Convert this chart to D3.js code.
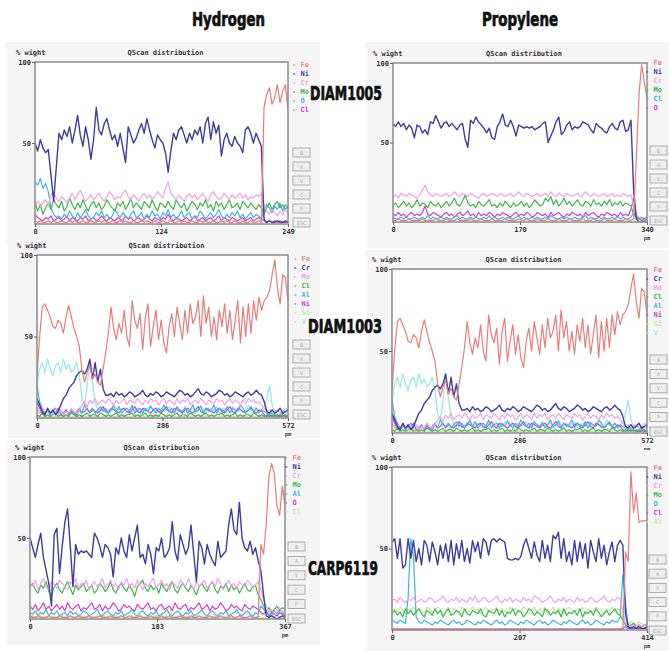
<!DOCTYPE html>
<html>
<head>
<meta charset="utf-8">
<script src="https://cdn.jsdelivr.net/npm/d3@7"></script>
<style>
html,body{margin:0;padding:0;background:#fff;}
svg{display:block;}
</style>
</head>
<body>
<svg id="chart" width="669" height="651"></svg>
<script>
// ---- Column / row headings ----
const gasTitles = ["Hydrogen", "Propylene"];
const sampleNames = ["DIAM1005", "DIAM1003", "CARP6119"];
const yTicks = [50, 100];
const buttonLabels = ["B", "A", "V", "C", "P", "ESC"];

// ---- Hydrogen / DIAM1005 (0–249 pm) ----
const h1005Ticks = [0, 124, 249];
const h1005Names = ["Fe", "Ni", "Cr", "Mo", "O", "Cl"];
const h1005_Fe = [2,1,2,1,1,2,1,2,1,1, 2,1,1,2,1,2,1,1,2,1, 1,2,1,1,2,1,2,1,1,2, 1,1,2,1,2,1,1,2,1,1,
  2,1,2,1,1,2,1,1,2,1, 1,2,1,1,2,1,2,1,1,2, 1,1,2,1,2,1,1,2,1,1, 2,1,2,1,1,2,1,1,2,1,
  1,2,1,1,2,1,72,80,84,74, 78,86,75,82,86,70];
const h1005_Ni = [50,45,52,47,44,46,30,14,35,56, 52,58,54,60,50,58,67,55,48,60, 52,40,52,72,58,55,62,65,58,52,
  55,48,56,47,38,60,55,50,53,58, 62,56,65,58,52,47,55,52,50,44, 32,45,56,52,58,60,55,50,56,52,
  58,55,60,50,62,66,52,63,56,61, 42,52,56,50,48,54,50,48,44,58, 60,56,50,56,52,48,3,1,2,1, 1,2,1,1,2,1];
const h1005_Cr = [12,14,11,13,15,12,18,20,16,14, 17,15,13,16,19,15,18,21,17,14, 16,18,15,17,19,16,14,17,20,18,
  15,17,16,19,21,17,15,18,16,14, 17,19,16,18,15,17,20,18,16,22, 26,19,17,15,18,16,14,17,19,16,
  18,15,17,19,16,14,18,20,17,15, 16,19,17,15,18,16,17,19,16,18, 15,17,16,18,17,19,12,8,6,9, 7,5,8,6,9,7];
const h1005_Mo = [14,8,12,6,10,13,9,15,12,10, 14,8,11,16,12,9,13,10,15,11, 8,12,14,10,13,9,11,15,12,10,
  8,13,11,14,9,12,16,10,13,11, 9,14,12,10,15,11,8,13,12,10, 14,11,9,15,12,10,13,8,11,14,
  12,9,13,11,15,10,12,8,14,11, 13,9,12,15,10,11,13,9,14,12, 10,13,11,9,12,10,6,10,13,9, 12,14,10,12,9,11];
const h1005_O = [26,24,28,22,25,20,10,6,4,5, 3,6,4,8,5,3,7,4,6,9, 5,3,4,7,5,8,4,6,3,5,
  9,6,4,7,5,3,6,8,4,5, 7,3,6,4,8,5,6,3,7,5, 9,4,6,3,5,8,4,6,7,3,
  5,4,8,6,3,5,7,4,6,9, 5,3,6,4,7,5,8,4,6,3, 5,7,4,6,5,3,8,12,10,7, 11,9,13,8,12,10];
const h1005_Cl = [6,4,3,2,4,3,5,2,3,4, 2,3,5,2,4,3,2,4,3,5, 2,3,4,2,3,5,3,2,4,3,
  2,4,3,2,5,3,4,2,3,4, 2,3,5,3,2,4,3,2,4,3, 6,3,2,4,3,2,3,4,2,3,
  5,2,3,4,2,3,4,2,3,5, 2,4,3,2,4,3,2,3,4,2, 3,4,2,3,4,3,2,1,2,1, 2,1,2,1,1,2];

// ---- Propylene / DIAM1005 (0–340 pm) ----
const p1005Ticks = [0, 170, 340];
const p1005Names = ["Fe", "Ni", "Cr", "Mo", "Cl", "O"];
const p1005_Fe = [1,1,2,1,1,1,2,1,1,1, 1,2,1,1,1,1,2,1,1,1, 2,1,1,1,2,1,1,1,1,2, 1,1,1,2,1,1,1,2,1,1,
  1,1,2,1,1,1,1,2,1,1, 2,1,1,1,2,1,1,1,2,1, 1,1,2,1,1,1,2,1,1,1, 1,2,1,1,1,2,1,1,1,2,
  1,1,1,2,1,1,1,2,1,1, 2,40,80,99,88,78];
const p1005_Ni = [62,60,63,60,62,58,61,59,53,61, 60,56,58,55,63,62,67,63,59,62, 63,60,62,60,58,61,62,52,47,64,
  62,66,63,61,59,56,59,53,52,60, 63,68,61,60,64,60,54,61,60,59, 60,59,60,58,59,60,62,63,50,54,
  58,63,66,55,57,61,63,58,60,59, 60,63,62,61,58,56,62,60,59,57, 56,60,62,59,58,63,64,57,58,64, 20,2,0,0,0,0];
const p1005_Cr = [16,17,15,18,17,16,18,17,16,15, 17,20,23,19,17,16,18,17,16,17, 18,16,17,19,17,16,18,17,16,18,
  17,16,15,17,18,16,17,18,17,16, 18,17,16,17,18,16,17,19,17,16, 18,17,16,17,18,16,17,18,16,19,
  17,16,18,17,16,18,17,16,17,18, 16,17,19,17,16,18,17,16,17,18, 16,17,18,16,17,16,18,17,16,17, 10,4,3,2,3,2];
const p1005_Mo = [10,12,9,11,13,10,12,9,11,14, 10,12,11,9,13,11,10,12,9,11, 13,10,12,15,11,10,13,17,12,10,
  11,9,13,11,10,12,14,10,11,9, 12,10,13,11,9,12,10,11,13,10, 12,9,11,14,12,10,11,15,13,16,
  11,14,10,12,15,11,13,10,12,14, 11,10,13,12,10,14,11,12,10,13, 11,14,10,12,11,13,10,12,11,10, 5,3,2,3,2,3];
const p1005_Cl = [3,2,2,3,2,3,2,2,3,2, 2,3,2,4,2,3,2,2,3,2, 3,2,2,3,4,2,3,2,2,3, 2,3,2,2,3,2,4,2,3,2,
  2,3,2,3,2,2,3,4,2,3, 2,2,3,2,3,2,2,3,2,4, 3,2,2,3,2,3,2,2,3,2, 2,3,4,2,3,2,2,3,2,3,
  2,2,3,2,4,2,3,2,2,3, 6,3,2,2,1,2];
const p1005_O = [5,4,6,4,5,3,5,6,4,5, 4,6,10,5,4,6,5,4,3,5, 6,4,5,3,5,6,4,5,7,4, 5,3,6,4,5,4,6,5,3,5,
  4,6,5,4,3,5,6,4,5,4, 6,5,3,4,6,5,4,5,3,6, 4,5,6,4,3,5,4,6,5,4, 5,3,6,4,5,6,4,3,5,4,
  6,5,4,5,3,6,4,5,4,8, 15,4,2,1,2,1];

// ---- DIAM1003 (0–572 pm), same profile recorded under both gases ----
const d1003Ticks = [0, 286, 572];
const d1003Names = ["Fe", "Cr", "Mo", "Cl", "Al", "Ni", "Si", "V"];
const d1003_Fe = [26,50,68,70,66,62,56,55,60,58, 52,62,69,62,55,50,44,30,22,28, 32,24,27,22,20,30,40,52,68,55,
  48,58,52,66,50,44,72,60,55,64, 42,62,70,44,56,66,48,60,46,40, 56,64,50,68,58,48,66,52,70,58,
  62,72,50,75,58,68,50,62,48,66, 56,70,52,66,48,60,72,46,68,50, 70,52,72,60,74,66,72,74,78,88, 97,80,70,88,86,72];
const d1003_Cr = [12,8,4,2,6,3,5,2,4,8, 12,14,18,20,22,26,28,29,27,30, 36,24,34,22,30,18,14,14,15,13,
  16,14,15,13,14,16,15,13,14,15, 17,14,13,15,14,16,15,13,14,16, 15,14,13,15,17,16,14,15,13,14,
  16,18,15,14,16,15,13,14,15,17, 16,14,15,13,14,16,15,14,13,15, 16,14,15,17,15,14,10,4,3,5, 3,4,6,3,4,5];
const d1003_Mo = [6,3,5,2,4,3,2,4,3,5, 2,4,3,6,4,3,5,8,10,7, 11,9,12,8,10,11,9,12,10,8, 11,9,10,12,8,11,10,9,12,10,
  8,11,9,12,10,11,8,10,12,9, 11,10,8,12,9,11,10,12,8,10, 11,9,12,10,8,11,10,9,12,10, 11,8,10,12,9,11,10,8,11,9,
  12,10,11,9,10,8,6,4,5,3, 4,5,3,4,3,4];
const d1003_Cl = [2,1,3,1,2,1,2,3,1,2, 1,2,1,3,2,1,2,1,2,3, 1,2,2,1,3,2,1,2,1,2, 3,1,2,1,2,2,3,1,2,1,
  2,3,1,2,1,2,1,3,2,1, 2,1,2,3,1,2,2,1,3,2, 1,2,1,2,3,1,2,1,2,2, 3,1,2,1,2,3,1,2,1,2,
  2,1,3,2,1,2,1,2,1,2, 1,2,1,1,2,1];
const d1003_Al = [20,10,6,3,5,2,4,6,3,5, 2,4,3,5,2,4,6,3,8,5, 4,6,3,5,7,4,6,3,5,8, 4,7,3,5,6,4,8,3,5,6,
  3,6,4,7,5,3,6,4,8,5, 4,6,3,7,5,4,6,3,5,8, 4,5,7,3,6,4,5,8,3,6, 5,4,7,3,6,5,4,8,6,3,
  5,7,4,6,3,5,4,3,2,3, 2,1,2,3,2,1];
const d1003_Ni = [10,6,2,3,5,2,4,3,6,2, 3,5,2,4,3,2,5,3,4,6, 3,5,4,3,5,7,4,3,6,5, 4,3,5,6,4,3,5,7,4,3,
  6,5,4,3,5,6,4,3,5,7, 4,3,6,5,4,3,5,6,4,3, 5,7,4,3,6,5,4,3,5,6, 4,3,5,7,4,3,6,5,4,3,
  5,6,4,3,5,4,2,1,2,1, 2,1,1,2,1,1];
const d1003_Si = [1,1,0.5,1,1,0.5,1,1,1,0.5, 1,1,1,0.5,1,1,0.5,1,1,1, 0.5,1,1,1,0.5,1,1,0.5,1,1, 1,0.5,1,1,1,0.5,1,1,0.5,1,
  1,1,0.5,1,1,1,0.5,1,1,1, 0.5,1,1,0.5,1,1,1,0.5,1,1, 1,0.5,1,1,1,0.5,1,1,0.5,1, 1,1,0.5,1,1,1,0.5,1,1,1,
  0.5,1,1,0.5,1,1,1,0.5,1,1, 1,0.5,1,1,0.5,1];
const d1003_V = [20,30,34,28,36,30,26,32,34,28, 36,30,33,28,30,34,26,12,8,20, 34,22,10,5,4,6,3,5,4,7,
  3,5,6,4,3,5,7,4,6,3, 5,4,6,8,4,5,3,6,4,5, 7,3,4,6,5,3,7,4,5,6, 3,4,8,5,3,6,4,5,7,3,
  4,6,5,3,7,4,5,6,3,4, 8,5,3,6,4,5,7,12,20,8, 4,5,3,4,6,5];

// ---- Hydrogen / CARP6119 (0–367 pm) ----
const h6119Ticks = [0, 183, 367];
const h6119Names = ["Fe", "Ni", "Cr", "Mo", "Al", "O", "Cl"];
const h6119_Fe = [2,1,1,2,1,1,1,2,1,1, 1,2,1,1,1,2,1,1,2,1, 1,1,2,1,1,1,2,1,1,1, 2,1,1,1,2,1,1,2,1,1,
  1,2,1,1,1,2,1,1,1,2, 1,1,2,1,1,1,2,1,1,1, 2,1,1,2,1,1,1,2,1,1, 1,2,1,1,1,2,1,1,2,1,
  1,1,2,1,1,1,46,40,58,88, 96,90,70,64,82,70];
const h6119_Ni = [50,44,38,46,53,38,30,22,8,52, 56,28,45,60,68,45,20,46,40,42, 41,42,40,38,53,50,45,38,46,44,
  40,26,44,40,50,42,38,52,42,50, 58,38,40,34,46,40,28,44,42,50, 38,40,44,60,42,36,52,46,40,44,
  58,40,23,48,44,34,46,40,36,33, 48,38,40,42,58,68,55,52,72,50, 44,42,48,40,44,36,30,15,2,1, 2,1,0,1,2,1];
const h6119_Cr = [22,20,24,18,22,25,20,18,23,21, 19,24,22,20,18,23,21,25,19,22, 20,24,18,21,23,20,22,25,19,21,
  24,20,22,18,23,21,25,20,22,19, 24,21,18,22,20,23,25,19,21,24, 20,22,18,23,21,19,24,22,20,25,
  21,18,23,20,22,24,19,21,23,20, 25,22,18,21,24,20,22,19,23,21, 20,24,22,19,21,23,18,12,8,4, 6,3,5,7,4,6];
const h6119_Mo = [20,22,18,16,21,19,23,17,14,20, 22,18,16,20,23,19,15,21,18,20, 22,17,19,21,16,18,22,20,17,19,
  23,18,16,20,22,19,17,21,18,14, 20,22,24,19,17,21,18,20,16,22, 19,17,21,23,18,16,20,22,19,17,
  21,18,15,20,22,19,17,21,23,18, 16,20,19,22,17,21,18,20,16,19, 22,18,17,20,21,15,12,8,5,7, 4,6,8,5,7,6];
const h6119_Al = [4,3,5,2,4,3,6,2,4,3, 5,2,3,4,2,5,3,4,2,3, 5,4,2,3,4,6,3,2,4,5, 3,2,4,3,5,2,3,4,6,3,
  2,4,5,3,2,4,3,5,2,3, 4,6,3,2,4,5,3,2,4,3, 5,2,3,4,6,3,2,4,5,3, 2,4,3,5,2,3,4,6,3,2,
  4,5,3,2,4,3,8,6,4,3, 2,5,3,6,4,3];
const h6119_O = [8,6,9,5,7,10,6,8,5,7, 9,6,8,5,10,7,6,8,9,5, 7,6,8,10,6,7,9,5,8,6, 7,10,8,5,6,9,7,8,6,5,
  9,7,6,8,10,6,7,5,8,9, 6,7,8,5,10,7,6,8,9,5, 7,6,8,10,6,7,9,5,8,6, 7,10,8,5,6,9,7,8,6,5,
  9,7,6,8,7,6,4,3,5,2, 4,3,2,4,3,2];
const h6119_Cl = [1,2,1,1,2,1,1,1,2,1, 1,1,2,1,1,2,1,1,1,2, 1,2,1,1,1,2,1,1,2,1, 1,1,2,1,2,1,1,1,2,1,
  2,1,1,1,2,1,1,2,1,1, 1,2,1,1,1,2,1,1,2,1, 1,1,2,1,1,1,2,1,1,2, 1,2,1,1,2,1,1,1,2,1,
  1,1,2,1,1,2,1,1,1,2, 1,1,2,1,1,1];

// ---- Propylene / CARP6119 (0–414 pm) ----
const p6119Ticks = [0, 207, 414];
const p6119Names = ["Fe", "Ni", "Cr", "Mo", "O", "Cl", "Al"];
const p6119_Fe = [0.5,0.5,0.5,0.5,0.5,0.5,0.5,0.5,0.5,0.5, 0.5,0.5,0.5,0.5,0.5,0.5,0.5,0.5,0.5,0.5,
  0.5,0.5,0.5,0.5,0.5,0.5,0.5,0.5,0.5,0.5, 0.5,0.5,0.5,0.5,0.5,0.5,0.5,0.5,0.5,0.5,
  0.5,0.5,0.5,0.5,0.5,0.5,0.5,0.5,0.5,0.5, 0.5,0.5,0.5,0.5,0.5,0.5,0.5,0.5,0.5,0.5,
  0.5,0.5,0.5,0.5,0.5,0.5,0.5,0.5,0.5,0.5, 0.5,0.5,0.5,0.5,0.5,0.5,0.5,0.5,0.5,0.5,
  0.5,0.5,0.5,0.5,0.5,0.5,0.5,48,42,97, 72,84,66,67,67,67];
const p6119_Ni = [54,56,44,56,38,40,56,44,55,42, 50,40,55,52,42,54,48,40,52,44, 53,42,55,40,53,44,55,42,50,41,
  55,48,54,44,56,54,46,55,56,54, 56,55,54,44,43,43,44,43,45,52, 56,50,44,54,46,42,55,44,52,42,
  58,56,60,44,56,42,48,40,55,42, 54,44,53,38,55,48,42,56,44,52, 40,48,54,42,52,55,52,10,2,1, 2,1,2,1,1,2];
const p6119_Cr = [18,19,17,20,18,17,19,18,20,17, 18,19,17,18,20,19,17,18,19,21, 18,17,19,18,20,17,19,18,17,20,
  18,21,17,18,20,19,17,18,19,21, 18,17,19,18,20,17,19,18,17,20, 18,19,17,21,20,19,17,18,19,21,
  18,17,19,18,20,17,19,18,17,20, 18,19,17,18,20,19,17,18,19,21, 18,17,19,18,20,19,12,4,3,2, 3,2,3,2,3,2];
const p6119_Mo = [10,12,9,11,8,13,10,12,9,11, 13,10,8,12,11,9,13,10,12,8, 11,13,9,10,12,11,8,13,10,9,
  12,11,10,13,9,8,12,11,10,13, 9,12,8,11,10,13,9,12,11,8, 10,13,12,9,11,10,8,13,12,9,
  11,10,12,8,13,9,11,10,12,9, 13,8,11,10,12,9,13,11,8,10, 12,9,11,13,10,9,6,3,2,3, 4,2,3,2,3,2];
const p6119_O = [6,5,4,6,5,4,20,56,45,8, 5,4,6,5,4,3,5,4,6,5, 4,3,5,6,4,5,3,4,6,5, 4,3,5,4,6,5,4,3,5,6,
  4,5,3,4,6,5,4,3,5,4, 6,5,4,3,5,6,4,5,3,4, 6,5,4,3,5,4,6,5,4,3, 5,6,4,5,3,4,6,5,4,3,
  5,4,6,5,5,8,34,16,3,2, 3,2,3,2,3,2];
const p6119_Cl = [0.5,0.5,0.5,0.5,0.5,0.5,0.5,0.5,0.5,0.5, 0.5,0.5,0.5,0.5,0.5,0.5,0.5,0.5,0.5,0.5,
  0.5,0.5,0.5,0.5,0.5,0.5,0.5,0.5,0.5,0.5, 0.5,0.5,0.5,0.5,0.5,0.5,0.5,0.5,0.5,0.5,
  0.5,0.5,0.5,0.5,0.5,0.5,0.5,0.5,0.5,0.5, 0.5,0.5,0.5,0.5,0.5,0.5,0.5,0.5,0.5,0.5,
  0.5,0.5,0.5,0.5,0.5,0.5,0.5,0.5,0.5,0.5, 0.5,0.5,0.5,0.5,0.5,0.5,0.5,0.5,0.5,0.5,
  0.5,0.5,0.5,0.5,0.5,0.5,1,2,1,1, 1,1,1,1,1,1];
const p6119_Al = [12,13,11,14,12,10,13,12,14,11, 13,12,10,14,13,11,12,14,13,10, 12,14,11,13,12,10,14,13,11,12,
  14,12,13,10,12,14,11,13,12,14, 11,13,12,10,14,12,13,11,12,14, 13,10,12,14,11,13,12,14,10,12,
  14,11,13,12,10,13,14,12,11,13, 12,14,10,13,12,11,14,13,12,10, 13,12,14,11,13,12,8,4,3,5, 4,3,5,4,3,4];

// Series colours follow legend order within each panel
const palette = ["#e97b7b", "#3d3d9e", "#f2a0ea", "#3eb64a", "#3cb4e6", "#d23ecf", "#c6e6a2", "#94e6e8"];

// ---- Panel layout ----
const panels = [
  { id: "h1005", ticks: h1005Ticks, names: h1005Names,
    series: [h1005_Fe, h1005_Ni, h1005_Cr, h1005_Mo, h1005_O, h1005_Cl],
    bg: [6, 42, 314, 200], plot: [35, 62, 288, 224], wightX: 16, legend: [292, 64], btn: [293, 148, 14], pm: false },
  { id: "p1005", ticks: p1005Ticks, names: p1005Names,
    series: [p1005_Fe, p1005_Ni, p1005_Cr, p1005_Mo, p1005_Cl, p1005_O],
    bg: [366, 42, 303, 206], plot: [393, 63, 647, 222], wightX: 373, legend: [645, 62], btn: [650, 146, 14], pm: true },
  { id: "h1003", ticks: d1003Ticks, names: d1003Names,
    series: [d1003_Fe, d1003_Cr, d1003_Mo, d1003_Cl, d1003_Al, d1003_Ni, d1003_Si, d1003_V],
    bg: [8, 240, 312, 198], plot: [37, 255, 288, 418], wightX: 17, legend: [293, 258], btn: [293, 340, 14], pm: true },
  { id: "p1003", ticks: d1003Ticks, names: d1003Names,
    series: [d1003_Fe, d1003_Cr, d1003_Mo, d1003_Cl, d1003_Al, d1003_Ni, d1003_Si, d1003_V],
    bg: [366, 250, 303, 200], plot: [392, 269, 647, 433], wightX: 372, legend: [645, 269], btn: [650, 355, 14.4], pm: true },
  { id: "h6119", ticks: h6119Ticks, names: h6119Names,
    series: [h6119_Fe, h6119_Ni, h6119_Cr, h6119_Mo, h6119_Al, h6119_O, h6119_Cl],
    bg: [6, 440, 314, 205], plot: [30, 457, 285, 619], wightX: 15, legend: [284, 457], btn: [288, 542, 14.4], pm: true },
  { id: "p6119", ticks: p6119Ticks, names: p6119Names,
    series: [p6119_Fe, p6119_Ni, p6119_Cr, p6119_Mo, p6119_O, p6119_Cl, p6119_Al],
    bg: [366, 450, 303, 201], plot: [392, 467, 647, 630], wightX: 372, legend: [645, 467], btn: [649, 555, 14.2], pm: true }
];

const svg = d3.select("#chart");
const SMALL = "'DejaVu Sans Mono', monospace";

panels.forEach(p => {
  const [px0, py0, px1, py1] = p.plot;
  const xMax = p.ticks[p.ticks.length - 1];
  const g = svg.append("g").attr("class", "panel-" + p.id);

  g.append("rect")
    .attr("x", p.bg[0]).attr("y", p.bg[1]).attr("width", p.bg[2]).attr("height", p.bg[3])
    .attr("fill", "#f5f5f5");

  const x = d3.scaleLinear().domain([0, xMax]).range([px0, px1]);
  const y = d3.scaleLinear().domain([0, 100]).range([py1, py0]);

  g.append("rect")
    .attr("x", px0).attr("y", py0).attr("width", px1 - px0).attr("height", py1 - py0)
    .attr("fill", "#ffffff");

  const clipId = "clip-" + p.id;
  g.append("clipPath").attr("id", clipId)
    .append("rect").attr("x", px0).attr("y", py0 - 2).attr("width", px1 - px0).attr("height", py1 - py0 + 2);

  // Samples are evenly spaced along the scan line
  const line = d3.line()
    .x((d, i, arr) => x(i * xMax / (arr.length - 1)))
    .y(d => y(d))
    .curve(d3.curveLinear);

  const lines = g.append("g").attr("clip-path", `url(#${clipId})`);
  for (let k = p.series.length - 1; k >= 0; k--) {
    lines.append("path")
      .datum(p.series[k])
      .attr("d", line)
      .attr("fill", "none")
      .attr("stroke", palette[k])
      .attr("stroke-width", k === 1 ? 1.4 : 1.2)
      .attr("stroke-linejoin", "round");
  }

  g.append("rect")
    .attr("x", px0).attr("y", py0).attr("width", px1 - px0).attr("height", py1 - py0)
    .attr("fill", "none").attr("stroke", "#8a8a8a").attr("stroke-width", 1.5);

  // Axes
  const xAxis = d3.axisBottom(x).tickValues(p.ticks).tickFormat(d3.format("d")).tickSize(3).tickPadding(2);
  const gx = g.append("g").attr("transform", `translate(0,${py1})`).call(xAxis);
  const yAxis = d3.axisLeft(y).tickValues(yTicks).tickFormat(d3.format("d")).tickSize(3).tickPadding(1);
  const gy = g.append("g").attr("transform", `translate(${px0},0)`).call(yAxis);
  [gx, gy].forEach(a => {
    a.select(".domain").remove();
    a.selectAll(".tick line").attr("stroke", "#666");
    a.selectAll(".tick text")
      .attr("font-family", SMALL).attr("font-size", 7).attr("font-weight", "bold").attr("fill", "#333");
  });

  if (p.pm) {
    g.append("text").attr("x", px1).attr("y", py1 + 18)
      .attr("text-anchor", "middle")
      .attr("font-family", SMALL).attr("font-size", 5.5).attr("font-weight", "bold").attr("fill", "#444")
      .text("pm");
  }

  g.append("text").attr("x", p.wightX).attr("y", py0 - 7)
    .attr("font-family", SMALL).attr("font-size", 7).attr("font-weight", "bold").attr("fill", "#333")
    .text("% wight");
  g.append("text").attr("x", (px0 + px1) / 2 + 4).attr("y", py0 - 7)
    .attr("text-anchor", "middle")
    .attr("font-family", SMALL).attr("font-size", 7).attr("font-weight", "bold").attr("fill", "#333")
    .text("QScan distribution");

  // Legend
  const lg = g.append("g").attr("transform", `translate(${p.legend[0]},${p.legend[1]})`);
  p.names.forEach((n, k) => {
    lg.append("text").attr("x", 0).attr("y", k * 9 + 2.5)
      .attr("font-family", SMALL).attr("font-size", 7).attr("font-weight", "bold")
      .attr("fill", palette[k])
      .text("- " + n);
  });

  // Control buttons
  const [bx, by, step] = p.btn;
  buttonLabels.forEach((b, k) => {
    const yy = by + k * step;
    g.append("rect").attr("x", bx).attr("y", yy).attr("width", 17).attr("height", 9)
      .attr("fill", "#eeeeee").attr("stroke", "#9c9c9c").attr("stroke-width", 0.8);
    g.append("text").attr("x", bx + 8.5).attr("y", yy + 6.5)
      .attr("text-anchor", "middle")
      .attr("font-family", SMALL).attr("font-size", 5).attr("fill", "#aaa")
      .text(b);
  });
});

// Headings (heavy condensed lettering)
const HEAD = "'Liberation Sans Narrow', 'DejaVu Sans Condensed', 'Arial Narrow', sans-serif";
const headings = [
  { t: gasTitles[0], x: 192, y: 26, w: 73 },
  { t: gasTitles[1], x: 482, y: 26, w: 76 },
  { t: sampleNames[0], x: 310, y: 100, w: 72 },
  { t: sampleNames[1], x: 308, y: 333, w: 74 },
  { t: sampleNames[2], x: 308, y: 575, w: 70 }
];
headings.forEach(h => {
  svg.append("text")
    .attr("x", h.x).attr("y", h.y)
    .attr("font-family", HEAD).attr("font-weight", "bold").attr("font-size", 19)
    .attr("textLength", h.w).attr("lengthAdjust", "spacingAndGlyphs")
    .attr("fill", "#111").attr("stroke", "#111").attr("stroke-width", 0.7)
    .attr("stroke-linejoin", "round")
    .text(h.t);
});
</script>
</body>
</html>
